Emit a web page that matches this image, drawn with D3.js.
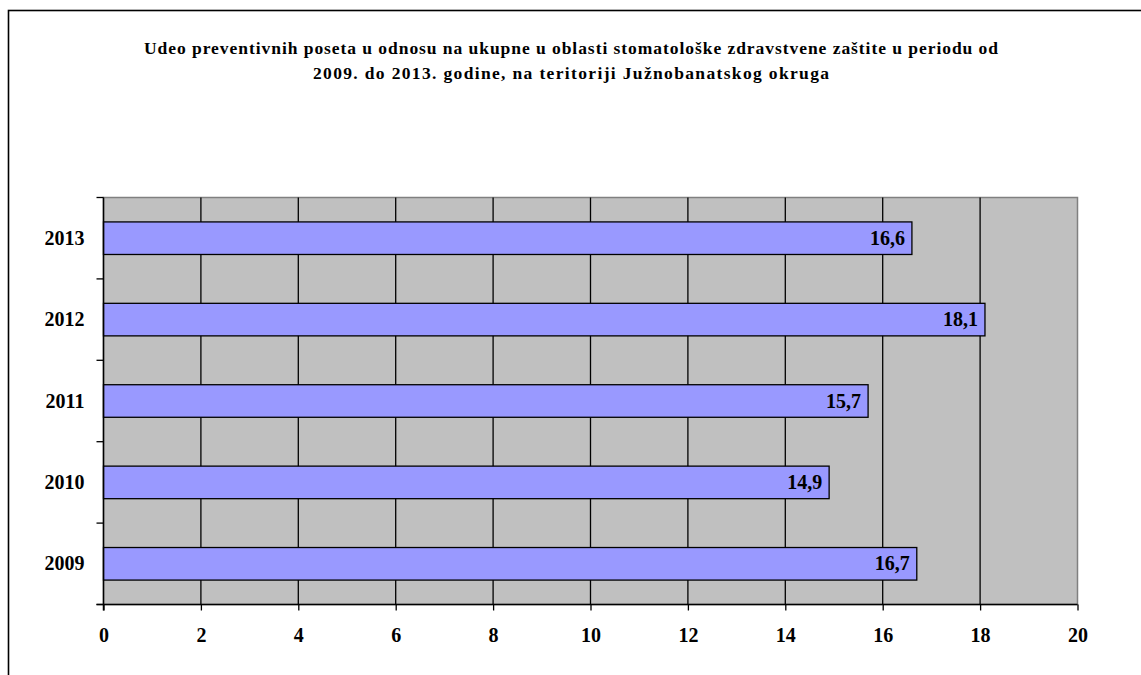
<!DOCTYPE html>
<html>
<head>
<meta charset="utf-8">
<script src="https://cdn.jsdelivr.net/npm/d3@7"></script>
<style>
  html, body { margin: 0; padding: 0; background: #fff; }
  svg { display: block; }
  text { font-family: "Liberation Serif", "Times New Roman", serif; font-weight: bold; fill: #000; }
</style>
</head>
<body>
<svg id="chart" width="1141" height="675"></svg>
<script>
// Share of preventive visits in total dental visits, by year
const years = ["2009", "2010", "2011", "2012", "2013"];
const shares = [16.7, 14.9, 15.7, 18.1, 16.6];
const xTicks = [0, 2, 4, 6, 8, 10, 12, 14, 16, 18, 20];
const titleLines = [
  "Udeo preventivnih poseta u odnosu na ukupne u oblasti stomatološke zdravstvene zaštite u periodu od",
  "2009. do 2013. godine, na teritoriji Južnobanatskog okruga"
];
const titleWidths = [854, 516];

const svg = d3.select("#chart");
const W = 1141, H = 675;

// outer chart frame (runs off the right and bottom edges)
svg.append("rect")
  .attr("x", 8.5).attr("y", 10.5)
  .attr("width", W + 10).attr("height", H + 10)
  .attr("fill", "#fff").attr("stroke", "#000").attr("stroke-width", 1.6);

// title
svg.append("g").selectAll("text")
  .data(titleLines)
  .join("text")
  .attr("x", 571)
  .attr("y", (d, i) => 54 + i * 25)
  .attr("text-anchor", "middle")
  .attr("font-size", 17.5)
  .attr("textLength", (d, i) => titleWidths[i])
  .attr("lengthAdjust", "spacing")
  .text(d => d);

const plot = { left: 103.5, right: 1077.5, top: 197.5, bottom: 604.5 };

const x = d3.scaleLinear().domain([0, 20]).range([plot.left, plot.right]);
// top-to-bottom order: latest year on top
const y = d3.scaleBand().domain(years.slice().reverse())
  .range([plot.top, plot.bottom]).paddingInner(0.6).paddingOuter(0.3);

// plot background
svg.append("rect")
  .attr("x", plot.left).attr("y", plot.top)
  .attr("width", plot.right - plot.left).attr("height", plot.bottom - plot.top)
  .attr("fill", "#c0c0c0").attr("stroke", "#808080").attr("stroke-width", 1.5);

// vertical gridlines
svg.append("g").selectAll("line")
  .data(xTicks.slice(1, -1))
  .join("line")
  .attr("x1", d => x(d)).attr("x2", d => x(d))
  .attr("y1", plot.top).attr("y2", plot.bottom)
  .attr("stroke", "#000").attr("stroke-width", 1.3);

// bars
const data = years.map((yr, i) => ({ year: yr, value: shares[i] }));
svg.append("g").selectAll("rect")
  .data(data)
  .join("rect")
  .attr("x", x(0))
  .attr("y", d => y(d.year))
  .attr("width", d => x(d.value) - x(0))
  .attr("height", y.bandwidth())
  .attr("fill", "#9999ff").attr("stroke", "#000").attr("stroke-width", 1.3);

// value labels inside bar ends
svg.append("g").selectAll("text")
  .data(data)
  .join("text")
  .attr("x", d => x(d.value) - 7)
  .attr("y", d => y(d.year) + y.bandwidth() / 2 + 6.5)
  .attr("text-anchor", "end")
  .attr("font-size", 20)
  .text(d => d3.format(".1f")(d.value).replace(".", ","));

// x axis
const xAxis = svg.append("g")
  .attr("transform", `translate(0,${plot.bottom})`)
  .call(d3.axisBottom(x).tickValues(xTicks).tickSize(6).tickFormat(d3.format("d")));
xAxis.select(".domain").attr("stroke", "#000").attr("stroke-width", 1.5)
  .attr("d", `M${plot.left - 7},0H${plot.right}`);
xAxis.selectAll(".tick line").attr("stroke", "#000").attr("stroke-width", 1.3);
xAxis.selectAll(".tick text")
  .attr("y", 37.5).attr("dy", null)
  .attr("font-family", "Liberation Serif, Times New Roman, serif")
  .attr("font-weight", "bold").attr("font-size", 20).attr("fill", "#000");

// y axis: ticks at category boundaries, labels at category centres
const boundaries = d3.range(years.length + 1).map(i => plot.top + i * (plot.bottom - plot.top) / years.length);
const yAxisG = svg.append("g");
yAxisG.append("line")
  .attr("x1", plot.left).attr("x2", plot.left)
  .attr("y1", plot.top).attr("y2", plot.bottom + 6)
  .attr("stroke", "#000").attr("stroke-width", 1.5);
yAxisG.selectAll("line.tick")
  .data(boundaries)
  .join("line").attr("class", "tick")
  .attr("x1", plot.left - 7).attr("x2", plot.left)
  .attr("y1", d => d).attr("y2", d => d)
  .attr("stroke", "#000").attr("stroke-width", 1.3);
yAxisG.selectAll("text")
  .data(years)
  .join("text")
  .attr("x", 84.5)
  .attr("y", d => y(d) + y.bandwidth() / 2 + 6.5)
  .attr("text-anchor", "end")
  .attr("font-size", 20)
  .text(d => d);
</script>
</body>
</html>
